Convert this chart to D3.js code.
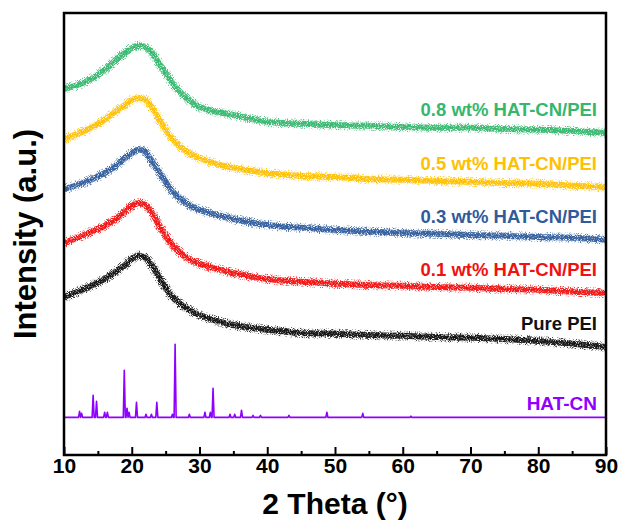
<!DOCTYPE html>
<html>
<head>
<meta charset="utf-8">
<script src="https://cdn.jsdelivr.net/npm/d3@7"></script>
<style>
    body { margin: 0; background: #ffffff; }
    text { font-family: Arial, "Liberation Sans", sans-serif; font-weight: bold; }
</style>
</head>
<body>
<svg id="drawing_region"></svg>
<script>
// 2 theta positions shared by the amorphous PEI scans
const angles = [10, 12, 14, 16, 18, 19, 20, 21, 22, 23, 24, 25, 26, 27, 28, 29, 30, 32, 35, 40, 45, 50, 55, 60, 65, 70, 75, 80, 85, 90];

// stacked intensities (a.u.), each scan already carries its vertical offset
const purePEI = [395, 408, 423, 440, 463, 475, 490, 498, 493, 473, 445, 418, 395, 380, 368, 358, 350, 338, 325, 313, 305, 303, 300, 298, 295, 293, 290, 285, 278, 270];
const pei01 = [530, 543, 558, 573, 595, 610, 623, 630, 625, 605, 575, 548, 525, 508, 495, 485, 478, 468, 455, 440, 433, 428, 425, 423, 420, 418, 415, 413, 408, 405];
const pei03 = [665, 675, 688, 705, 728, 743, 755, 763, 758, 733, 708, 683, 658, 643, 630, 620, 613, 603, 590, 575, 568, 563, 558, 555, 553, 550, 548, 545, 543, 538];
const pei05 = [790, 803, 818, 838, 863, 875, 888, 893, 888, 868, 840, 813, 790, 773, 760, 750, 743, 730, 718, 705, 698, 695, 690, 688, 685, 683, 680, 678, 673, 670];
const pei08 = [915, 925, 940, 963, 993, 1005, 1018, 1023, 1020, 1005, 980, 955, 930, 910, 893, 880, 870, 860, 850, 833, 828, 825, 823, 820, 818, 818, 815, 813, 810, 805];

// HAT-CN powder pattern: sharp reflections on a flat baseline
const hatBaseline = 94;
const hatPeakAngles = [12.3, 12.6, 14.3, 14.8, 16.0, 16.4, 18.9, 19.3, 19.6, 20.7, 22.1, 22.9, 23.7, 26.0, 26.4, 28.5, 30.8, 31.6, 32.0, 34.5, 35.2, 36.2, 37.9, 39.0, 43.2, 48.8, 54.1, 61.2];
const hatPeakHeights = [15, 10, 55, 40, 13, 13, 118, 23, 13, 38, 8, 8, 38, 8, 183, 8, 13, 13, 73, 8, 8, 18, 5, 5, 5, 13, 10, 3];

const seriesLabels = ['Pure PEI', '0.1 wt% HAT-CN/PEI', '0.3 wt% HAT-CN/PEI', '0.5 wt% HAT-CN/PEI', '0.8 wt% HAT-CN/PEI'];
const seriesColors = ['#111111', '#f21010', '#2f5b9c', '#ffc000', '#34b76d'];
const hatLabel = 'HAT-CN';
const hatColor = '#8f00ff';

const xTicks = [10, 20, 30, 40, 50, 60, 70, 80, 90];
const xMinorTicks = [15, 25, 35, 45, 55, 65, 75, 85];

class XrdChart {

    constructor( config ) {
        this.config = {
            parent: config.parent,
            width: config.width || 623,
            height: config.height || 529,
            margin: config.margin || {top:13, right:17, bottom:74, left:64}
        };
        this.init();
    }

    init() {
        let self = this;

        self.svg = d3.select( self.config.parent )
            .attr('width', self.config.width)
            .attr('height', self.config.height);

        self.inner_width = self.config.width - self.config.margin.left - self.config.margin.right;
        self.inner_height = self.config.height - self.config.margin.top - self.config.margin.bottom;

        const defs = self.svg.append('defs');

        // speckle textures for the noisy scans: sparse outside, denser in the middle
        const addSpeckle = (id, seed, offset) => {
            const f = defs.append('filter')
                .attr('id', id)
                .attr('filterUnits', 'userSpaceOnUse')
                .attr('x', 0).attr('y', 0)
                .attr('width', self.config.width).attr('height', self.config.height);
            f.append('feTurbulence')
                .attr('type', 'fractalNoise')
                .attr('baseFrequency', 1.1)
                .attr('numOctaves', 1)
                .attr('seed', seed)
                .attr('result', 'noise');
            f.append('feColorMatrix')
                .attr('in', 'noise')
                .attr('type', 'matrix')
                .attr('values', `0 0 0 0 0  0 0 0 0 0  0 0 0 0 0  7 0 0 0 ${offset}`)
                .attr('result', 'mask');
            f.append('feComposite')
                .attr('in', 'SourceGraphic')
                .attr('in2', 'mask')
                .attr('operator', 'in');
        };
        addSpeckle('speckle_outer', 4, -3.6);
        addSpeckle('speckle_inner', 9, -2.5);

        defs.append('clipPath').attr('id', 'plot_clip')
            .append('rect')
            .attr('width', self.inner_width)
            .attr('height', self.inner_height);

        self.chart = self.svg.append('g')
            .attr('transform', `translate(${self.config.margin.left}, ${self.config.margin.top})`);

        self.xscale = d3.scaleLinear()
            .domain([10, 90])
            .range([0, self.inner_width]);

        self.yscale = d3.scaleLinear()
            .domain([0, 1105])
            .range([self.inner_height, 0]);

        self.xaxis_minor = d3.axisBottom( self.xscale )
            .tickValues(xMinorTicks)
            .tickSize(-4)
            .tickFormat('');

        self.xaxis = d3.axisBottom( self.xscale )
            .tickValues(xTicks)
            .tickSize(-8)
            .tickPadding(3)
            .tickSizeOuter(0);

        self.plot = self.chart.append('g')
            .attr('clip-path', 'url(#plot_clip)');

        self.xaxis_minor_group = self.chart.append('g')
            .attr('transform', `translate(0, ${self.inner_height})`);
        self.xaxis_group = self.chart.append('g')
            .attr('transform', `translate(0, ${self.inner_height})`);
    }

    update() {
        let self = this;

        self.scans = [purePEI, pei01, pei03, pei05, pei08].map( (vals, i) => ({
            label: seriesLabels[i],
            color: seriesColors[i],
            points: angles.map( (a, j) => [a, vals[j]] )
        }));

        // each reflection drawn as a narrow triangle on the baseline
        self.hatPoints = [[10, hatBaseline]];
        hatPeakAngles.forEach( (a, i) => {
            self.hatPoints.push([a - 0.15, hatBaseline]);
            self.hatPoints.push([a, hatBaseline + hatPeakHeights[i]]);
            self.hatPoints.push([a + 0.15, hatBaseline]);
        });
        self.hatPoints.push([90, hatBaseline]);

        self.render();
    }

    render() {
        let self = this;

        const smooth = d3.line()
            .x( d => self.xscale(d[0]) )
            .y( d => self.yscale(d[1]) )
            .curve(d3.curveCatmullRom.alpha(0.5));

        const sharp = d3.line()
            .x( d => self.xscale(d[0]) )
            .y( d => self.yscale(d[1]) );

        const scan = self.plot.selectAll('g.scan')
            .data(self.scans)
            .enter()
            .append('g')
            .attr('class', 'scan');

        scan.append('path')
            .attr('d', d => smooth(d.points))
            .attr('fill', 'none')
            .attr('stroke', d => d.color)
            .attr('stroke-width', 10)
            .attr('opacity', 0.8)
            .attr('filter', 'url(#speckle_outer)');

        scan.append('path')
            .attr('d', d => smooth(d.points))
            .attr('fill', 'none')
            .attr('stroke', d => d.color)
            .attr('stroke-width', 6)
            .attr('opacity', 0.9)
            .attr('filter', 'url(#speckle_inner)');

        scan.append('path')
            .attr('d', d => smooth(d.points))
            .attr('fill', 'none')
            .attr('stroke', d => d.color)
            .attr('stroke-width', 2.5)
            .attr('opacity', 0.55);

        self.plot.append('path')
            .attr('d', sharp(self.hatPoints))
            .attr('fill', 'none')
            .attr('stroke', hatColor)
            .attr('stroke-width', 1.6)
            .attr('stroke-linejoin', 'round');

        // series labels, right aligned inside the frame
        self.chart.selectAll('text.series')
            .data(self.scans)
            .enter()
            .append('text')
            .attr('class', 'series')
            .attr('x', self.inner_width - 9)
            .attr('y', d => self.yscale(d.points[d.points.length - 1][1]) - 17)
            .attr('text-anchor', 'end')
            .attr('font-size', 18.5)
            .attr('fill', d => d.color)
            .text(d => d.label);

        self.chart.append('text')
            .attr('x', self.inner_width - 9)
            .attr('y', self.yscale(hatBaseline) - 7)
            .attr('text-anchor', 'end')
            .attr('font-size', 19)
            .attr('fill', hatColor)
            .text(hatLabel);

        self.xaxis_minor_group.call( self.xaxis_minor );
        self.xaxis_group.call( self.xaxis );

        self.chart.selectAll('.tick line')
            .attr('stroke', '#000')
            .attr('stroke-width', 2);
        self.chart.selectAll('.domain').remove();
        self.xaxis_group.selectAll('text')
            .attr('font-size', 21)
            .attr('fill', '#000');

        // frame
        self.chart.append('rect')
            .attr('width', self.inner_width)
            .attr('height', self.inner_height)
            .attr('fill', 'none')
            .attr('stroke', '#000')
            .attr('stroke-width', 2.5);

        self.chart.append('text')
            .attr('x', self.inner_width / 2)
            .attr('y', self.inner_height + 59)
            .attr('text-anchor', 'middle')
            .attr('font-size', 30)
            .text('2 Theta (°)');

        self.chart.append('text')
            .attr('transform', `translate(${-28}, ${self.inner_height / 2}) rotate(-90)`)
            .attr('text-anchor', 'middle')
            .attr('font-size', 31)
            .text('Intensity (a.u.)');
    }
}

const chart = new XrdChart({ parent: '#drawing_region', width: 623, height: 529 });
chart.update();
</script>
</body>
</html>
